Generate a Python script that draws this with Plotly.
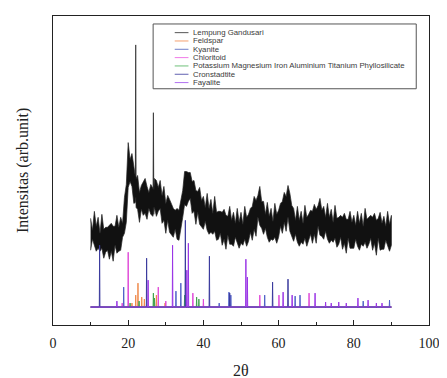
import plotly.graph_objects as go

# ---------------- data ----------------
lempung_2theta = [10.0, 10.5, 11.0, 11.5, 12.0, 12.5, 13.0, 13.5, 14.0, 14.5, 15.0, 15.5, 16.0, 16.5, 17.0, 17.5,
                  18.0, 18.5, 19.0, 19.5, 20.0, 20.5, 21.0, 21.5, 21.9, 22.0, 22.1, 22.5, 23.0, 23.5, 24.0, 24.5,
                  25.0, 25.5, 26.0, 26.6, 26.7, 26.8, 27.0, 27.5, 28.0, 28.5, 29.0, 29.5, 30.0, 30.5, 31.0, 31.5,
                  32.0, 32.5, 33.0, 33.5, 34.0, 34.5, 35.0, 35.5, 36.0, 36.5, 37.0, 37.5, 38.0, 38.5, 39.0, 39.5,
                  40.0, 40.5, 41.0, 41.5, 42.0, 42.5, 43.0, 43.5, 44.0, 44.5, 45.0, 45.5, 46.0, 46.5, 47.0, 47.5,
                  48.0, 48.5, 49.0, 49.5, 50.0, 50.5, 51.0, 51.5, 52.0, 52.5, 53.0, 53.5, 54.0, 54.5, 55.0, 55.5,
                  56.0, 56.5, 57.0, 57.5, 58.0, 58.5, 59.0, 59.5, 60.0, 60.5, 61.0, 61.5, 62.0, 62.5, 63.0, 63.5,
                  64.0, 64.5, 65.0, 65.5, 66.0, 66.5, 67.0, 67.5, 68.0, 68.5, 69.0, 69.5, 70.0, 70.5, 71.0, 71.5,
                  72.0, 72.5, 73.0, 73.5, 74.0, 74.5, 75.0, 75.5, 76.0, 76.5, 77.0, 77.5, 78.0, 78.5, 79.0, 79.5,
                  80.0, 80.5, 81.0, 81.5, 82.0, 82.5, 83.0, 83.5, 84.0, 84.5, 85.0, 85.5, 86.0, 86.5, 87.0, 87.5,
                  88.0, 88.5, 89.0, 89.5, 90.0]
lempung_upper = [107, 95, 114, 99, 108, 92, 111, 96, 98, 98, 100, 102, 99, 99, 110, 98,
                 108, 102, 128, 141, 183, 166, 172, 157, 149, 281, 147, 150, 133, 140, 144, 147,
                 139, 133, 141, 137, 213, 136, 147, 145, 138, 145, 130, 139, 122, 130, 126, 122,
                 117, 115, 117, 115, 124, 135, 154, 154, 153, 153, 144, 145, 135, 134, 138, 125,
                 129, 118, 132, 117, 126, 112, 129, 113, 114, 114, 113, 116, 110, 109, 119, 105,
                 113, 102, 117, 103, 113, 101, 119, 108, 111, 117, 119, 129, 125, 130, 139, 124,
                 124, 111, 123, 109, 117, 104, 122, 111, 115, 122, 124, 133, 129, 140, 132, 120,
                 117, 105, 119, 105, 114, 102, 120, 108, 111, 115, 114, 121, 116, 120, 127, 115,
                 119, 108, 122, 108, 116, 103, 120, 107, 108, 110, 108, 112, 106, 106, 114, 103,
                 110, 100, 114, 102, 112, 99, 117, 106, 108, 110, 108, 112, 105, 107, 113, 102,
                 109, 99, 114, 101, 110]
lempung_lower = [75, 86, 80, 74, 77, 74, 77, 67, 73, 75, 66, 74, 64, 80, 72, 74,
                 75, 88, 92, 103, 138, 144, 139, 122, 123, 128, 118, 116, 103, 116, 110, 112,
                 106, 117, 111, 109, 118, 111, 118, 109, 114, 117, 102, 105, 92, 105, 93, 91,
                 88, 96, 86, 85, 95, 108, 121, 119, 124, 127, 112, 114, 101, 113, 101, 99,
                 96, 104, 95, 91, 93, 91, 94, 85, 86, 92, 80, 86, 76, 90, 81, 81,
                 79, 88, 82, 77, 82, 80, 86, 79, 84, 93, 85, 96, 89, 108, 100, 97,
                 91, 97, 88, 83, 86, 85, 88, 82, 88, 99, 92, 103, 94, 108, 94, 89,
                 84, 91, 83, 79, 83, 81, 87, 79, 84, 91, 82, 91, 82, 99, 90, 89,
                 86, 94, 86, 82, 85, 83, 87, 78, 81, 88, 76, 82, 72, 87, 77, 77,
                 77, 86, 79, 75, 81, 79, 83, 77, 81, 87, 75, 82, 70, 87, 75, 76,
                 76, 85, 79, 74, 80]

# Reference phases: peak positions (2theta) and peak-top intensities
baseline = 18
pattern_start, pattern_end = 10, 90

feldspar_pos = [21.0, 22.0, 22.6, 23.6, 24.3, 27.5, 29.8]
feldspar_int = [22, 30, 42, 28, 26, 30, 22]

kyanite_pos = [18.8, 32.7, 34.0, 44.2, 46.8, 47.3, 56.3, 64.4, 65.7, 82.5, 89.5]
kyanite_int = [38, 34, 42, 22, 33, 30, 30, 29, 30, 24, 25]

chloritoid_pos = [18.4, 20.0, 28.0, 30.0, 37.2, 40.0, 55.0, 60.1, 68.1]
chloritoid_int = [22, 73, 38, 24, 32, 26, 30, 30, 32]

kmg_pos = [20.5, 22.9, 26.7, 27.0, 35.0, 38.2, 38.8]
kmg_int = [22, 24, 32, 27, 30, 28, 26]

cronstadtite_pos = [12.4, 24.9, 35.2, 41.6, 47.0, 58.4, 62.5]
cronstadtite_int = [80, 67, 105, 69, 32, 43, 46]

fayalite_pos = [17.0, 25.3, 31.8, 35.6, 36.0, 51.3, 51.7, 61.2, 63.6, 69.7, 72.5, 74.0, 76.0,
                78.0, 81.1, 83.8, 86.0, 87.5]
fayalite_int = [24, 45, 80, 55, 82, 66, 48, 33, 30, 32, 23, 22, 23, 22, 27, 25, 22, 22]

series_names = ["Lempung Gandusari", "Feldspar", "Kyanite", "Chloritoid",
                "Potassium Magnesium Iron Aluminium Titanium Phyllosilicate",
                "Cronstadtite", "Fayalite"]
series_colors = ["#111111", "#F08A4B", "#4F5FC8", "#E048D8", "#3FA34D", "#3B3B9E", "#9A35E6"]
legend_line_colors = ["#555555", "#F4A070", "#6F7FC8", "#F07AE8", "#6FC07A", "#6060B0", "#B070F0"]

x_ticks = [0, 20, 40, 60, 80, 100]
x_tick_labels = ["0", "20", "40", "60", "80", "100"]

# ---------------- figure ----------------
OFF = 8                       # page body margin of the exported html
W, H = 447 - OFF, 378 - OFF
PL, PR, PT, PB = 53, 436, 15, 325   # plot area in screenshot pixels
YMAX = 310


def sticks(pos, inten):
    xs, ys = [pattern_start], [baseline]
    for p, v in sorted(zip(pos, inten)):
        xs += [p - 0.08, p, p + 0.08]
        ys += [baseline, v, baseline]
    xs.append(pattern_end)
    ys.append(baseline)
    return xs, ys


fig = go.Figure()
band_x = lempung_2theta + lempung_2theta[::-1]
band_y = lempung_upper + lempung_lower[::-1]
fig.add_trace(go.Scatter(x=band_x, y=band_y, mode="lines", fill="toself",
                         fillcolor="#111111", line=dict(color="#222222", width=0.7),
                         name=series_names[0], showlegend=False))

phases = [(feldspar_pos, feldspar_int), (kyanite_pos, kyanite_int),
          (chloritoid_pos, chloritoid_int), (kmg_pos, kmg_int),
          (cronstadtite_pos, cronstadtite_int), (fayalite_pos, fayalite_int)]
for i, (p, v) in enumerate(phases, start=1):
    xs, ys = sticks(p, v)
    fig.add_trace(go.Scatter(x=xs, y=ys, mode="lines",
                             line=dict(color=series_colors[i], width=1),
                             name=series_names[i], showlegend=False))

axis_font = dict(family="Liberation Serif, Times New Roman, serif", size=14, color="#222222")

fig.update_layout(
    width=W, height=H,
    margin=dict(l=PL - OFF, r=W - (PR - OFF), t=PT - OFF, b=H - (PB - OFF), pad=0),
    paper_bgcolor="white", plot_bgcolor="white",
    showlegend=False,
    xaxis=dict(range=[0, 100], tickvals=x_ticks, ticktext=x_tick_labels,
               ticks="inside", ticklen=5, tickwidth=1, tickcolor="#222222",
               minor=dict(dtick=10, ticks="inside", ticklen=3, tickcolor="#222222"),
               showline=True, linecolor="#222222", linewidth=1, mirror=True,
               showgrid=False, zeroline=False, tickfont=axis_font, ticklabelstandoff=5),
    yaxis=dict(range=[0, YMAX], showticklabels=False, ticks="",
               showline=True, linecolor="#222222", linewidth=1, mirror=True,
               showgrid=False, zeroline=False),
)


def px_x(px):
    return (px - PL) / (PR - PL)


def px_y(py):
    return (PB - py) / (PB - PT)


# axis titles
fig.add_annotation(text="Intensitas (arb.unit)", textangle=-90, x=px_x(22), y=px_y(170),
                   xref="paper", yref="paper", xanchor="center", yanchor="middle", showarrow=False,
                   font=dict(family="Liberation Serif, Times New Roman, serif", size=16, color="#222222"))
fig.add_annotation(text="2θ", x=px_x(245), y=px_y(371), xref="paper", yref="paper",
                   xanchor="center", yanchor="middle", showarrow=False,
                   font=dict(family="Liberation Serif, Times New Roman, serif", size=16, color="#222222"))

# compact legend
fig.add_shape(type="rect", xref="paper", yref="paper",
              x0=px_x(155), x1=px_x(423), y0=px_y(88), y1=px_y(23),
              line=dict(color="#555555", width=1), fillcolor="white")
row0, row_step = 31.7, 8.35
for i, name in enumerate(series_names):
    yy = row0 + i * row_step
    fig.add_shape(type="line", xref="paper", yref="paper",
                  x0=px_x(177), x1=px_x(191), y0=px_y(yy), y1=px_y(yy),
                  line=dict(color=legend_line_colors[i], width=1))
    fig.add_annotation(text=name, x=px_x(194), y=px_y(yy), xref="paper", yref="paper",
                       xanchor="left", yanchor="middle", showarrow=False,
                       font=dict(family="Liberation Sans, Arial, sans-serif", size=7.8, color="#3a3a3a"))

fig.write_html("out.html")
